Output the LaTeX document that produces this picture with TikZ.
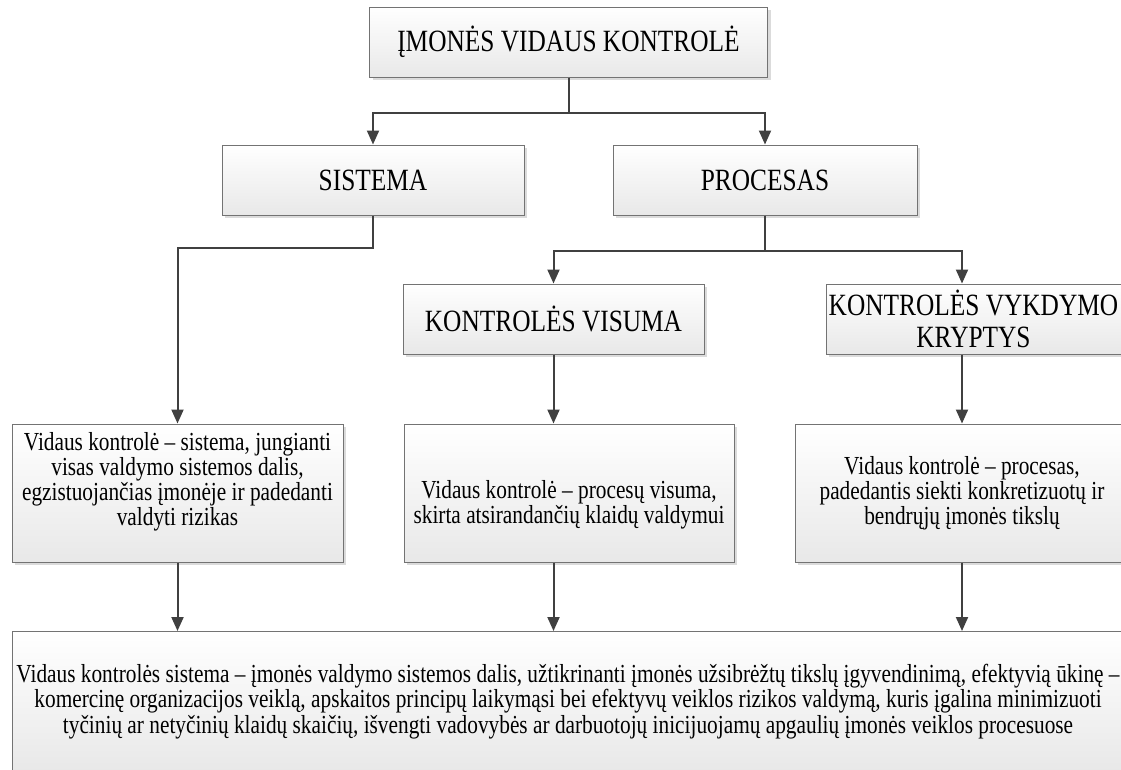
\documentclass[tikz,border=0pt]{standalone}
\usepackage{fontspec}
\setmainfont{Liberation Serif}[FakeStretch=0.82]
\usetikzlibrary{arrows.meta,shadows}

\tikzset{
  box/.style={draw=black!55, line width=0.75pt, top color=white, bottom color=black!9,
    shading angle=0, inner sep=2pt, align=center,
    drop shadow={shadow xshift=2.3pt, shadow yshift=-2.3pt, fill=black!14, opacity=1}},
  headbox/.style={box, minimum height=52.5pt, font=\fontsize{23.2}{24}\selectfont},
  textbox/.style={box, minimum height=103.5pt, font=\fontsize{19.5}{17.3}\selectfont},
  widebox/.style={box, font=\fontsize{19.5}{17.3}\selectfont},
  conn/.style={draw=black!75, line width=1.5pt,
    -{Triangle[length=10.5pt,width=9pt]}}
}

\begin{document}
\begin{tikzpicture}[x=0.75pt, y=-0.75pt]
\useasboundingbox (0,0) rectangle (1121,769);

% main heading and the two branches
\node[headbox, minimum width=298.5pt] (top) at (568.5,42) {ĮMONĖS VIDAUS KONTROLĖ};
\node[headbox, minimum width=226.5pt] (si) at (373,180) {SISTEMA};
\node[headbox, minimum width=228pt] (pr) at (765,180) {PROCESAS};

% second level under PROCESAS
\node[headbox, minimum width=225.75pt] (vs) at (553.5,319) {KONTROLĖS VISUMA};
\node[headbox, minimum width=221.25pt] (vy) at (973.5,319) {KONTROLĖS VYKDYMO\\KRYPTYS};

% definitions (the struts keep an empty line's worth of space below / above the text)
\node[textbox, minimum width=248.25pt] (ll) at (177.5,493)
  {Vidaus kontrolė – sistema, jungianti\\visas valdymo sistemos dalis,\\egzistuojančias įmonėje ir padedanti\\valdyti rizikas\rule[-21.5pt]{0pt}{0pt}};
\node[textbox, minimum width=247.5pt] (lm) at (569,493)
  {\rule{0pt}{30.5pt}Vidaus kontrolė – procesų visuma,\\skirta atsirandančių klaidų valdymui};
\node[textbox, minimum width=250.5pt] (lr) at (962,493)
  {Vidaus kontrolė – procesas,\\padedantis siekti konkretizuotų ir\\bendrųjų įmonės tikslų};

% summary
\node[widebox, minimum width=834pt, minimum height=105pt] (bt) at (568,701.5)
  {Vidaus kontrolės sistema – įmonės valdymo sistemos dalis, užtikrinanti įmonės užsibrėžtų tikslų įgyvendinimą, efektyvią ūkinę –\\
   komercinę organizacijos veiklą, apskaitos principų laikymąsi bei efektyvų veiklos rizikos valdymą, kuris įgalina minimizuoti\\
   tyčinių ar netyčinių klaidų skaičių, išvengti vadovybės ar darbuotojų inicijuojamų apgaulių įmonės veiklos procesuose};

% connectors
\draw[conn] (top.south) -- ++(0,35) -| (si.north);
\draw[conn] (top.south) -- ++(0,35) -| (pr.north);
\draw[conn] (si.south) -- ++(0,32) -| (ll.north);
\draw[conn] (pr.south) -- ++(0,35) -| (vs.north);
\draw[conn] (pr.south) -- ++(0,35) -| (lr.north |- vy.north);
\draw[conn] (vs.south) -- (vs.south |- lm.north);
\draw[conn] (lr.north |- vy.south) -- (lr.north);
\draw[conn] (ll.south) -- (ll.south |- bt.north);
\draw[conn] (vs.south |- lm.south) -- (vs.south |- bt.north);
\draw[conn] (lr.south) -- (lr.south |- bt.north);
\end{tikzpicture}
\end{document}
